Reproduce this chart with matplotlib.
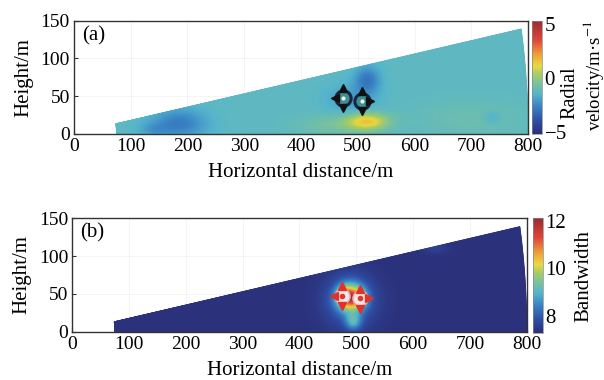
import numpy as np
import matplotlib
matplotlib.use("Agg")
import matplotlib.pyplot as plt
from matplotlib.colors import LinearSegmentedColormap

plt.rcParams['font.family'] = ['Liberation Serif', 'DejaVu Serif']
plt.rcParams['mathtext.fontset'] = 'stix'

# ---------------- data ----------------
x_ticks = [0, 100, 200, 300, 400, 500, 600, 700, 800]
y_ticks = [0, 50, 100, 150]
range_min, range_max = 75, 800          # m
elev_max_deg = 10.0                     # scan top elevation

# radial velocity field: background + anomalies
vel_background = -1.3
vel_blob_x   = [185, 140, 517, 517, 460, 700, 737, 490]
vel_blob_y   = [14,  6,   17,  72,  12,  20,  22,  46]
vel_blob_sx  = [33,  18,  26,  15,  45,  70,  10,  30]
vel_blob_sy  = [13,  6,   8,   12,  10,  18,  5,   14]
vel_blob_amp = [-1.5, -0.6, 2.6, -1.6, 0.7, 0.4, -0.6, -0.8]
vel_vmin, vel_vmax = -5.2, 5.3
vel_cticks = [-5, 0, 5]

# spectral bandwidth field
bw_background = 7.3
bw_blob_x   = [490, 490, 495, 478, 508, 640]
bw_blob_y   = [46,  42,  14,  50,  45,  110]
bw_blob_sx  = [16,  32,  10,  8,   8,   15]
bw_blob_sy  = [12,  24,  8,   7,   7,   5]
bw_blob_amp = [3.4, 1.0, 1.3, 0.8, 0.8, 0.3]
bw_vmin, bw_vmax = 7.25, 12.1
bw_cticks = [8, 10, 12]

# vortex symbols (centres and arrow offsets, m)
vortex_x = [474, 507]
vortex_y = [47, 44]
arrow_dx = [[0, -14, 0], [0, 15, 0]]
arrow_dy = [[14, 0, -13], [13, 0, -14]]
arrow_marker = [['^', '<', 'v'], ['^', '>', 'v']]

# ---------------- colormap ----------------
cmap = LinearSegmentedColormap.from_list('mjet', [
    (0.00, '#2b2f78'), (0.12, '#2f4fa6'), (0.25, '#3a86c6'),
    (0.35, '#56b5cc'), (0.45, '#7cc39c'), (0.53, '#aacd62'),
    (0.60, '#ead940'), (0.70, '#efa036'), (0.83, '#de463a'),
    (1.00, '#9b2a30')])
cmap_bw = cmap.with_extremes(over='#f4f0f0')


def field(bg, bx, by, bsx, bsy, bamp, X, Y):
    F = np.full_like(X, bg)
    for cx, cy, sx, sy, a in zip(bx, by, bsx, bsy, bamp):
        F += a * np.exp(-0.5 * ((X - cx) / sx) ** 2 - 0.5 * ((Y - cy) / sy) ** 2)
    return F


r = np.linspace(range_min, range_max, 400)
th = np.deg2rad(np.linspace(0, elev_max_deg, 80))
R, TH = np.meshgrid(r, th)
X = R * np.cos(TH)
Y = R * np.sin(TH)

V = field(vel_background, vel_blob_x, vel_blob_y, vel_blob_sx, vel_blob_sy, vel_blob_amp, X, Y)
B = field(bw_background, bw_blob_x, bw_blob_y, bw_blob_sx, bw_blob_sy, bw_blob_amp, X, Y)

FS = 15
TS = 14
fig = plt.figure(figsize=(6.04, 3.8), dpi=100)
ax1 = fig.add_axes([0.1225, 0.6482, 0.7517, 0.2974])
cax1 = fig.add_axes([0.8803, 0.6482, 0.0166, 0.2974])
ax2 = fig.add_axes([0.1197, 0.1271, 0.7523, 0.2984])
cax2 = fig.add_axes([0.8830, 0.1229, 0.0155, 0.3026])

m1 = ax1.pcolormesh(X, Y, V, cmap=cmap, vmin=vel_vmin, vmax=vel_vmax, shading='gouraud')
m2 = ax2.pcolormesh(X, Y, B, cmap=cmap_bw, vmin=bw_vmin, vmax=bw_vmax, shading='gouraud')

for i, (cx, cy) in enumerate(zip(vortex_x, vortex_y)):
    # panel (a): dark ring disk with black arrows
    ax1.plot(cx, cy, marker='o', ms=11, mfc='#3e8f92', mec='#1c2540', mew=2.2, ls='none')
    ax1.plot(cx, cy, marker='o', ms=3, mfc='#e8f0f0', mec='none', ls='none')
    # panel (b): whitish disk with red arrows
    ax2.plot(cx, cy, marker='o', ms=11, mfc='#f2e6e4', mec='#e8a0a0', mew=1.0, ls='none')
    ax2.plot(cx, cy, marker='o', ms=4, mfc='#d83a30', mec='none', ls='none')
    for dx, dy, mk in zip(arrow_dx[i], arrow_dy[i], arrow_marker[i]):
        ax1.plot(cx + dx, cy + dy, marker=mk, color='#111111', ms=5.5, ls='none')
        ax2.plot(cx + dx, cy + dy, marker=mk, color='#e2302a', ms=6, ls='none')

for ax, lab in [(ax1, '(a)'), (ax2, '(b)')]:
    ax.set_xlim(0, 800)
    ax.set_ylim(0, 150)
    ax.set_xticks(x_ticks)
    ax.set_yticks(y_ticks)
    ax.tick_params(direction='in', length=3, labelsize=TS, color='#333333', pad=3)
    for s in ax.spines.values():
        s.set_color('#333333')
        s.set_linewidth(1.0)
    ax.set_xlabel('Horizontal distance/m', fontsize=FS, labelpad=6)
    ax.set_ylabel('Height/m', fontsize=FS, labelpad=5)
    ax.text(0.018, 0.87, lab, transform=ax.transAxes, fontsize=FS, va='center', ha='left')
    ax.grid(True, color='#f2f2f2', lw=0.6)
    ax.set_axisbelow(True)

cb1 = fig.colorbar(m1, cax=cax1, ticks=vel_cticks)
cb1.ax.set_yticklabels(['\u22125', '0', '5'])
cb2 = fig.colorbar(m2, cax=cax2, ticks=bw_cticks)
for cb in (cb1, cb2):
    cb.ax.tick_params(length=0, labelsize=TS + 1, pad=2)
    cb.outline.set_linewidth(0.5)
    cb.outline.set_edgecolor('#888888')

fig.text(570 / 604, 1 - 93 / 380, 'Radial', rotation=90, ha='center', va='center', fontsize=14.5)
fig.text(593 / 604, 1 - 76 / 380, 'velocity/m\u00b7s$^{-1}$', rotation=90, ha='center', va='center', fontsize=13.5)
cb2.set_label('Bandwidth', fontsize=FS, labelpad=6)

fig.savefig('out.png', dpi=100)
